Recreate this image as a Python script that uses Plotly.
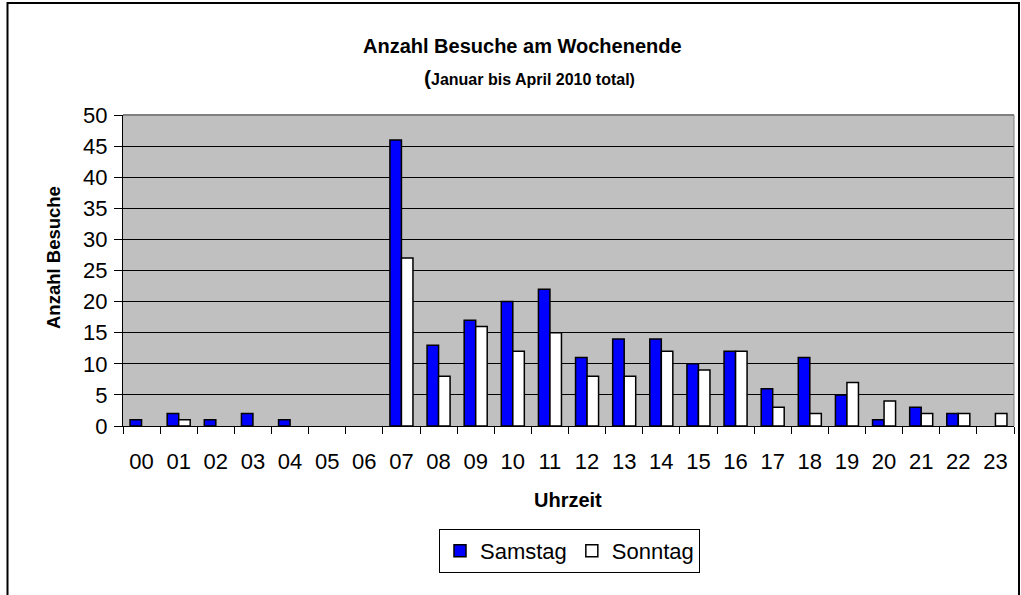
import plotly.graph_objects as go

hours = ["00","01","02","03","04","05","06","07","08","09","10","11",
         "12","13","14","15","16","17","18","19","20","21","22","23"]
samstag = [1,2,1,2,1,0,0,46,13,17,20,22,11,14,14,10,12,6,11,5,1,3,2,0]
sonntag = [0,1,0,0,0,0,0,27,8,16,12,15,8,8,12,9,12,3,2,7,4,2,2,2]

L, R, T, B = 123, 7, 115, 169
W, H = 1021, 595
pw, ph = W - L - R, H - T - B

def px(x):
    return (x - L) / pw

def py(y):
    return (H - B - y) / ph

def nz(vals):
    # zero-height bars are not drawn in the reference
    return [v if v else None for v in vals]

fig = go.Figure()
fig.add_trace(go.Bar(x=hours, y=nz(samstag), name="Samstag",
                     marker=dict(color="#0000FF", line=dict(color="black", width=1.5))))
fig.add_trace(go.Bar(x=hours, y=nz(sonntag), name="Sonntag",
                     marker=dict(color="#FFFFFF", line=dict(color="black", width=1.5))))

fig.update_layout(
    width=W, height=H,
    margin=dict(l=L, r=R, t=T, b=B, pad=0),
    paper_bgcolor="white", plot_bgcolor="#C0C0C0",
    barmode="group", bargap=0.38, bargroupgap=0,
    font=dict(family="Arial, Liberation Sans, sans-serif", color="black"),
    showlegend=True,
    legend=dict(orientation="h", x=px(569.5), xanchor="center", y=py(529), yanchor="top",
                bordercolor="black", borderwidth=1, font=dict(size=22),
                traceorder="normal", itemwidth=30, tracegroupgap=0),
    xaxis=dict(type="category", tickfont=dict(size=22), ticks="outside", tickson="boundaries",
               ticklen=7, tickcolor="black", showline=True, linecolor="black", linewidth=1,
               showgrid=False, ticklabelstandoff=16),
    yaxis=dict(range=[0, 50], dtick=5, tickfont=dict(size=22), ticks="outside", ticklen=8,
               tickcolor="black", showline=True, linecolor="black", linewidth=1,
               showgrid=True, gridcolor="black", gridwidth=1, zeroline=False,
               ticklabelstandoff=2),
    annotations=[
        dict(text="<b>Anzahl Besuche am Wochenende</b>", xref="paper", yref="paper",
             x=px(522), y=py(46), xanchor="center", yanchor="middle", showarrow=False,
             font=dict(size=20)),
        dict(text="<b><span style='font-size:21px'>(</span>Januar bis April 2010 total)</b>",
             xref="paper", yref="paper",
             x=px(529), y=py(77), xanchor="center", yanchor="middle", showarrow=False,
             font=dict(size=16)),
        dict(text="<b>Uhrzeit</b>", xref="paper", yref="paper",
             x=px(568), y=py(500), xanchor="center", yanchor="middle", showarrow=False,
             font=dict(size=20)),
        dict(text="<b>Anzahl Besuche</b>", xref="paper", yref="paper", textangle=-90,
             x=px(53), y=py(258), xanchor="center", yanchor="middle", showarrow=False,
             font=dict(size=18.5)),
    ],
    shapes=[
        dict(type="rect", xref="paper", yref="paper",
             x0=px(7.5), x1=px(1019), y0=py(605), y1=py(3),
             line=dict(color="black", width=2), fillcolor="rgba(0,0,0,0)", layer="below"),
        dict(type="line", xref="paper", yref="paper", x0=0, x1=1, y0=1, y1=1,
             line=dict(color="#808080", width=2)),
        dict(type="line", xref="paper", yref="paper", x0=1, x1=1, y0=0, y1=1,
             line=dict(color="#808080", width=1)),
    ],
)

fig.write_html("out.html", config={"displayModeBar": False},
               post_script="document.body.style.margin='0';")
